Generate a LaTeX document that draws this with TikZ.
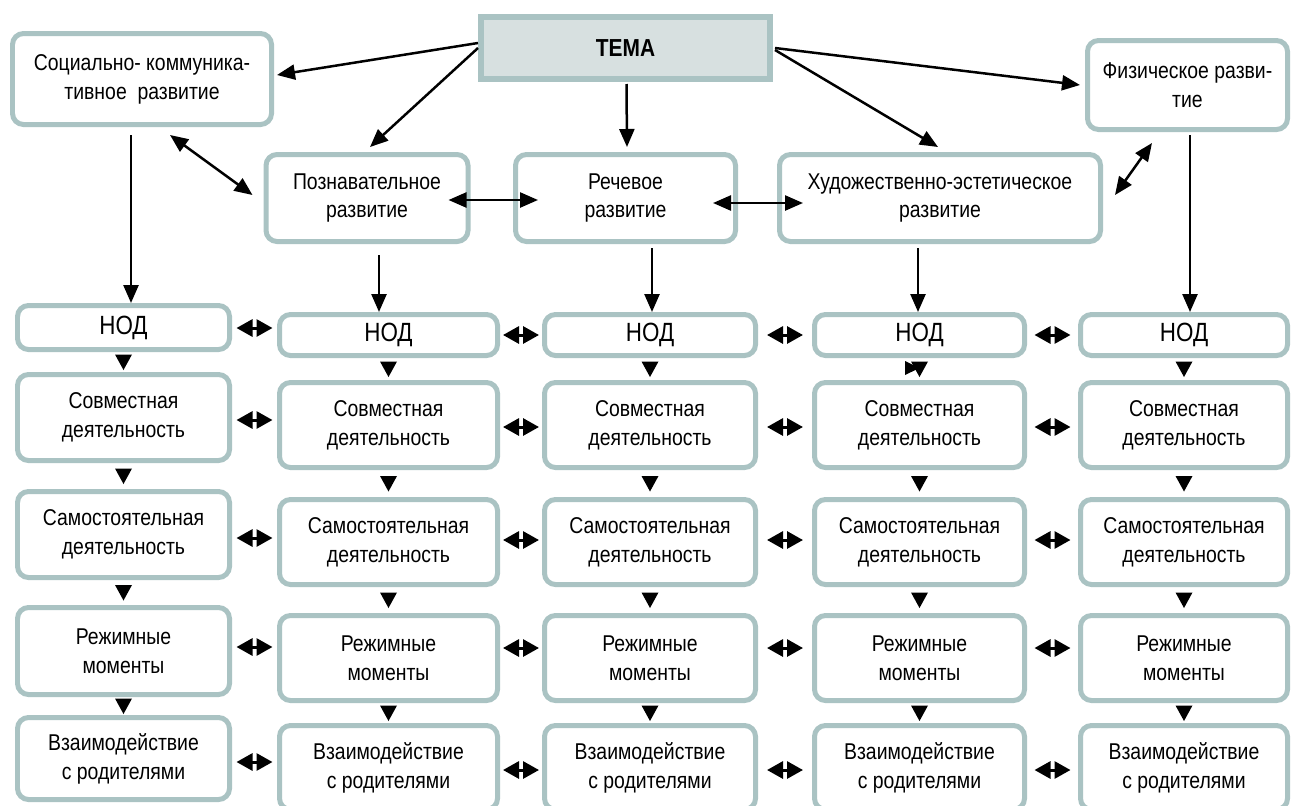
\documentclass[tikz,border=0pt]{standalone}
\usepackage{fontspec}
\setmainfont[FakeStretch=0.85]{Liberation Sans}
\usetikzlibrary{arrows.meta,calc}
\definecolor{bord}{RGB}{170,195,195}
\definecolor{temafill}{RGB}{215,224,224}
\newcommand\bx[6]{\node[box, minimum width=#4*0.02cm, minimum height=#5*0.02cm] (#1) at (#2,#3) {#6};}
\newcommand\lr[3]{\path (#1.east) -- (#2.west) coordinate[midway] (g); \coordinate (yy) at (0,#3); \draw[small] ($(g |- yy)+(-18,0)$) -- ($(g |- yy)+(18,0)$);}
\newcommand\dtri[2]{\path (#1.south) -- (#2.north) coordinate[midway] (m); \fill (m) ++(-8.5,-7.5) -- ++(17,0) -- ++(-8.5,15.5) -- cycle;}
\begin{document}
\begin{tikzpicture}[x=0.02cm,y=-0.02cm,
  box/.style={draw=bord, line width=0.1cm, rounded corners=0.22cm, fill=white, align=center, inner sep=0pt, font=\fontsize{13}{16.4}\selectfont},
  arr/.style={line width=0.05cm, -{Triangle[length=0.36cm,width=0.3cm]}},
  darr/.style={line width=0.05cm, {Triangle[length=0.36cm,width=0.3cm]}-{Triangle[length=0.36cm,width=0.3cm]}},
  small/.style={line width=0.06cm, {Triangle[length=0.32cm,width=0.34cm]}-{Triangle[length=0.32cm,width=0.34cm]}},
]
\useasboundingbox (0,0) rectangle (1291,805);
\clip (0,0) rectangle (1291,805);

% top level
\node[draw=bord, fill=temafill, line width=0.12cm, minimum width=289*0.02cm, minimum height=62*0.02cm, font=\bfseries\fontsize{14}{16}\selectfont] (tema) at (625.5,48) {ТЕМА};
\bx{social}{142}{79}{259}{91}{Социально- коммуника-\\тивное\ \ развитие}
\bx{poz}{367}{198}{202}{87}{Познавательное\\развитие}
\bx{rech}{625.5}{198}{220}{87}{Речевое\\развитие}
\bx{hud}{940}{198}{321}{87}{Художественно-эстетическое\\развитие}
\bx{fiz}{1187.5}{85}{200}{89}{Физическое разви-\\тие}

% grid column 1
\bx{c1r1}{123.5}{327.5}{212}{44}{\fontsize{15}{17}\selectfont НОД}
\bx{c1r2}{123.5}{417.5}{212}{86}{Совместная\\деятельность}
\bx{c1r3}{123.5}{534.5}{212}{86}{Самостоятельная\\деятельность}
\bx{c1r4}{123.5}{651}{212}{87}{Режимные\\моменты}
\bx{c1r5}{123.5}{758.5}{212}{82}{Взаимодействие\\с родителями}

% grid columns 2-5
\foreach \c/\x/\w in {2/388.5/218, 3/650/211, 4/919.5/210, 5/1184/207}{
  \bx{c\c r1}{\x}{335}{\w}{41}{\fontsize{15}{17}\selectfont НОД}
  \bx{c\c r2}{\x}{425}{\w}{85}{Совместная\\деятельность}
  \bx{c\c r3}{\x}{542}{\w}{85}{Самостоятельная\\деятельность}
  \bx{c\c r4}{\x}{658}{\w}{85}{Режимные\\моменты}
  \bx{c\c r5}{\x}{767.5}{\w}{84}{Взаимодействие\\с родителями}
}

% arrows from ТЕМА
\draw[arr] ($(tema.west)+(0,-5)$) -- ($(social.east)+(3,-4)$);
\draw[arr] (tema.west) -- ($(poz.north)+(3,-5)$);
\draw[arr] ($(tema.south)+(1,2)$) -- ($(rech.north)+(1.5,-5)$);
\draw[arr] ($(tema.east)+(2,0)$) -- ($(fiz.west)+(-5,0)$);
\draw[arr] ($(tema.east)+(2,2)$) -- ($(hud.north)+(-2,-5)$);

% double arrows between areas
\draw[darr] ($(social.south)+(28,8)$) -- ($(poz.west)+(-11,-3)$);
\draw[darr] ($(poz.east)+(-22,2)$) -- ($(rech.west)+(25,2)$);
\draw[darr] ($(rech.east)+(-25,5)$) -- ($(hud.west)+(26,5)$);
\draw[darr] ($(hud.east)+(12,-3)$) -- ($(fiz.south)+(-35.5,11)$);

% vertical arrows to НОД
\coordinate (s1) at ($(social.south)+(-11,8)$);
\coordinate (s2) at ($(poz.south)+(12,11)$);
\coordinate (s3) at ($(rech.south)+(26.5,4)$);
\coordinate (s4) at ($(hud.south)+(-22,4)$);
\coordinate (s5) at ($(fiz.south)+(2.5,3)$);
\draw[arr] (s1) -- (s1 |- c1r1.north);
\foreach \c in {2,3,4,5}{ \draw[arr] (s\c) -- (s\c |- c\c r1.north); }

% down triangles between rows
\foreach \c in {1,...,5}{
  \foreach \r in {1,...,4}{
    \pgfmathtruncatemacro\rr{\r+1}
    \dtri{c\c r\r}{c\c r\rr}
  }
}
% stray right-pointing triangle
\fill ($(c4r1.south)+(-14.5,3)$) -- ($(c4r1.south)+(0,10)$) -- ($(c4r1.south)+(-14.5,17)$) -- cycle;

% small double arrows between columns
\lr{c1r1}{c2r1}{328} \lr{c2r1}{c3r1}{335} \lr{c3r1}{c4r1}{335} \lr{c4r1}{c5r1}{335}
\lr{c1r2}{c2r2}{420} \lr{c2r2}{c3r2}{427} \lr{c3r2}{c4r2}{427} \lr{c4r2}{c5r2}{427}
\lr{c1r3}{c2r3}{538} \lr{c2r3}{c3r3}{540} \lr{c3r3}{c4r3}{540} \lr{c4r3}{c5r3}{540}
\lr{c1r4}{c2r4}{647} \lr{c2r4}{c3r4}{648} \lr{c3r4}{c4r4}{648} \lr{c4r4}{c5r4}{648}
\lr{c1r5}{c2r5}{762} \lr{c2r5}{c3r5}{770} \lr{c3r5}{c4r5}{770} \lr{c4r5}{c5r5}{770}
\end{tikzpicture}
\end{document}
